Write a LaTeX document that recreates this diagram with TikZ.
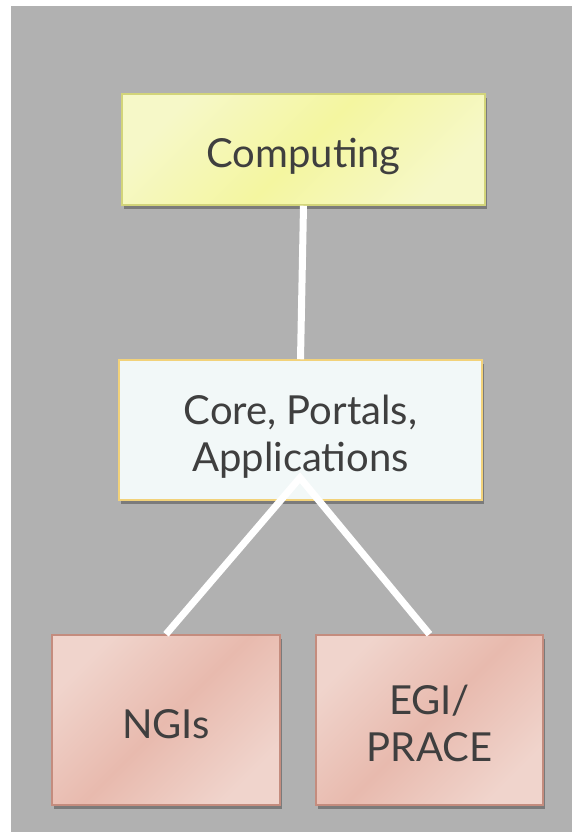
\documentclass[tikz,border=0pt]{standalone}
\usepackage{fontspec}
\setmainfont{Lato}
\usetikzlibrary{calc,shadings}
\definecolor{bggray}{HTML}{B1B1B1}
\definecolor{txt}{HTML}{3F3F3F}
\definecolor{ylA}{HTML}{F6F8C8}
\definecolor{ylB}{HTML}{F4F6A0}
\definecolor{ylD}{HTML}{D2D47A}
\definecolor{cyA}{HTML}{F2F8F8}
\definecolor{cyD}{HTML}{F2D27A}
\definecolor{rdA}{HTML}{F0D4CC}
\definecolor{rdB}{HTML}{E8BAAE}
\definecolor{rdD}{HTML}{C48C7E}
\newcommand\lowtxt[1]{\raisebox{-9pt}[\height][\depth]{\begin{tabular}{@{}c@{}}#1\end{tabular}}}
\tikzset{
  x=1pt, y=-1pt,
  boxbase/.style={rectangle, inner sep=0pt, line width=1.5pt, text=txt, align=center,
     font=\fontsize{40}{47}\selectfont,
     preaction={fill=black, fill opacity=0.3, transform canvas={shift={(2pt,-4pt)}}}},
  ybox/.style={boxbase, draw=ylD, left color=ylA, right color=ylA, middle color=ylB, shading angle=45},
  cbox/.style={boxbase, draw=cyD, fill=cyA},
  rbox/.style={boxbase, draw=rdD, left color=rdA, right color=rdA, middle color=rdB, shading angle=45},
  link/.style={draw=white, line width=7pt}
}
\begin{document}
\begin{tikzpicture}
\useasboundingbox (0,0) rectangle (572,832);
\fill[white] (0,0) rectangle (572,832);
\fill[bggray] (11,6) rectangle (572,832);
\node[ybox, minimum width=363pt, minimum height=111pt] (comp) at (303.5,149.5) {\lowtxt{Computing}};
\node[cbox, minimum width=363pt, minimum height=140pt] (core) at (300.5,430) {\lowtxt{Core, Portals,\\Applications}};
\node[rbox, minimum width=228pt, minimum height=170pt] (ngi) at (166,720) {\lowtxt{NGIs}};
\node[rbox, minimum width=227pt, minimum height=170pt] (egi) at (429.5,720) {\lowtxt{EGI/\\PRACE}};
\coordinate (apex) at ($(core.south)+(-0.5,-23)$);
\draw[link] (comp.south) -- (core.north);
\draw[link, line join=miter] (ngi.north) -- (apex) -- (egi.north);
\end{tikzpicture}
\end{document}
